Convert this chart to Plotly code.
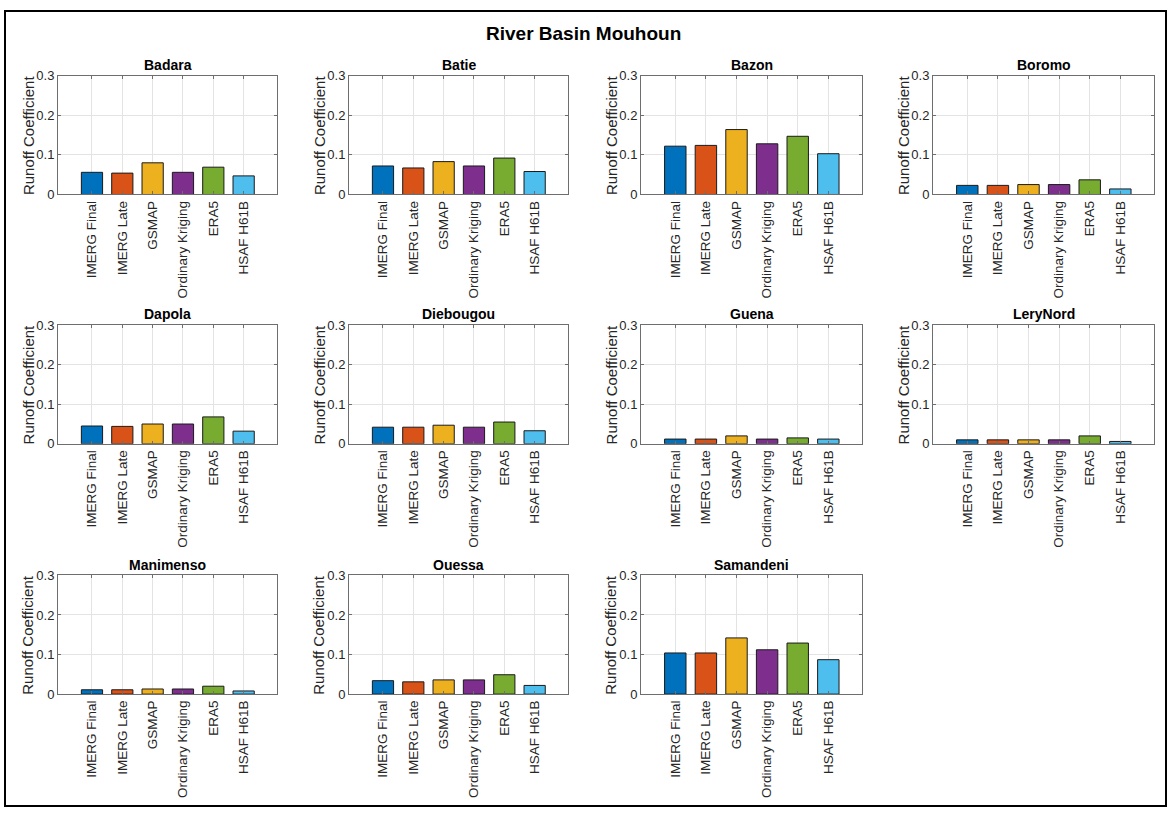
import plotly.graph_objects as go

W, H = 1169, 816

main_title = "River Basin Mouhoun"
y_label = "Runoff Coefficient"
products = ["IMERG Final", "IMERG Late", "GSMAP", "Ordinary Kriging", "ERA5", "HSAF H61B"]
bar_colors = ["#0072BD", "#D95319", "#EDB120", "#7E2F8E", "#77AC30", "#4DBEEE"]
y_tickvals = [0, 0.1, 0.2, 0.3]
y_ticktext = ["0", "0.1", "0.2", "0.3"]

stations = ["Badara", "Batie", "Bazon", "Boromo", "Dapola", "Diebougou",
            "Guena", "LeryNord", "Manimenso", "Ouessa", "Samandeni"]

badara = [0.056, 0.054, 0.080, 0.056, 0.069, 0.047]
batie = [0.072, 0.067, 0.083, 0.072, 0.092, 0.058]
bazon = [0.122, 0.124, 0.164, 0.128, 0.147, 0.103]
boromo = [0.023, 0.023, 0.025, 0.025, 0.037, 0.014]
dapola = [0.045, 0.044, 0.050, 0.050, 0.068, 0.032]
diebougou = [0.042, 0.042, 0.047, 0.042, 0.055, 0.033]
guena = [0.012, 0.012, 0.020, 0.012, 0.015, 0.012]
lerynord = [0.010, 0.010, 0.010, 0.010, 0.020, 0.006]
manimenso = [0.011, 0.011, 0.013, 0.013, 0.020, 0.008]
ouessa = [0.034, 0.031, 0.036, 0.036, 0.049, 0.022]
samandeni = [0.104, 0.104, 0.142, 0.112, 0.129, 0.087]

values = [badara, batie, bazon, boromo, dapola, diebougou,
          guena, lerynord, manimenso, ouessa, samandeni]

# layout geometry in pixels
col_px = [(58, 277), (349, 568), (641, 862), (933, 1154)]
row_px = [(70, 191), (324, 445), (579, 700)]

FONT = "Liberation Sans, Arial, sans-serif"
fig = go.Figure()
annotations = []
layout_axes = {}

for i, (name, vals) in enumerate(zip(stations, values)):
    r, c = divmod(i, 4)
    x0, x1 = col_px[c]
    yt, yb = row_px[r]
    idx = i + 1
    xa = "x" if idx == 1 else f"x{idx}"
    ya = "y" if idx == 1 else f"y{idx}"
    fig.add_trace(go.Bar(
        x=products, y=vals, xaxis=xa, yaxis=ya,
        width=0.7,
        marker=dict(color=bar_colors, line=dict(color="#1a1a1a", width=1)),
        showlegend=False,
    ))
    xkey = "xaxis" if idx == 1 else f"xaxis{idx}"
    ykey = "yaxis" if idx == 1 else f"yaxis{idx}"
    layout_axes[xkey] = dict(
        domain=[x0 / W, x1 / W], anchor=ya,
        type="category", range=[-1.12, 6.1],
        tickangle=-90, tickfont=dict(family=FONT, size=13.5, color="#262626"),
        showline=True, linecolor="#6e6e6e", linewidth=1, mirror="ticks",
        ticks="inside", ticklen=3, tickcolor="#6e6e6e",
        showgrid=True, gridcolor="#e3e3e3", gridwidth=1,
        fixedrange=True,
    )
    layout_axes[ykey] = dict(
        domain=[1 - yb / H, 1 - yt / H], anchor=xa,
        range=[0, 0.3], tickvals=y_tickvals, ticktext=y_ticktext,
        tickfont=dict(family=FONT, size=13, color="#262626"),
        showline=True, linecolor="#6e6e6e", linewidth=1, mirror="ticks",
        ticks="inside", ticklen=3, tickcolor="#6e6e6e",
        showgrid=True, gridcolor="#e3e3e3", gridwidth=1, zeroline=False,
        fixedrange=True,
    )
    annotations.append(dict(
        text=f"<b>{name}</b>", x=(x0 + x1) / 2 / W, y=1 - (yt - 11) / H,
        xref="paper", yref="paper", showarrow=False,
        xanchor="center", yanchor="middle",
        font=dict(family=FONT, size=14, color="#000000"),
    ))
    annotations.append(dict(
        text=y_label, x=(x0 - 30) / W, y=1 - (yt + yb) / 2 / H,
        xref="paper", yref="paper", showarrow=False, textangle=-90,
        xanchor="center", yanchor="middle",
        font=dict(family=FONT, size=15, color="#262626"),
    ))

annotations.append(dict(
    text=f"<b>{main_title}</b>", x=583 / W, y=1 - 27 / H,
    xref="paper", yref="paper", showarrow=False,
    xanchor="center", yanchor="middle",
    font=dict(family=FONT, size=19, color="#000000"),
))

fig.update_layout(
    width=W, height=H,
    margin=dict(l=0, r=0, t=0, b=0),
    paper_bgcolor="white", plot_bgcolor="white",
    annotations=annotations,
    shapes=[dict(type="rect", xref="paper", yref="paper",
                 x0=5 / W, x1=1166 / W, y0=1 - 814 / H, y1=1 - 4 / H,
                 line=dict(color="black", width=2))],
    bargap=0.3,
    **layout_axes,
)

fig.write_html("out.html")
